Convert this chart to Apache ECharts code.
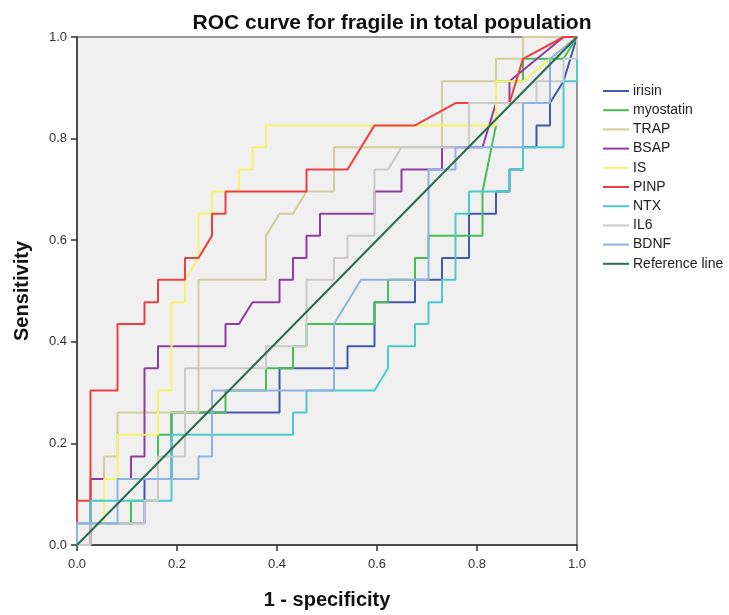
<!DOCTYPE html>
<html><head><meta charset="utf-8">
<script src="https://cdn.jsdelivr.net/npm/echarts@6/dist/echarts.min.js"></script>
<style>html,body{margin:0;padding:0;background:#fff}#c{width:729px;height:615px}</style>
</head><body><div id="c"></div>
<script>
const seriesNames = ['irisin','myostatin','TRAP','BSAP','IS','PINP','NTX','IL6','BDNF','Reference line'];
const xTicks = [0, 0.2, 0.4, 0.6, 0.8, 1.0];
const yTicks = [0, 0.2, 0.4, 0.6, 0.8, 1.0];

const irisin = [[0,0],[0,0.043],[0.135,0.043],[0.135,0.130],[0.189,0.130],[0.189,0.261],[0.405,0.261],[0.405,0.348],[0.541,0.348],[0.541,0.391],[0.595,0.391],[0.595,0.478],[0.676,0.478],[0.676,0.522],[0.730,0.522],[0.730,0.565],[0.784,0.565],[0.784,0.652],[0.838,0.652],[0.838,0.696],[0.865,0.696],[0.865,0.739],[0.892,0.739],[0.892,0.783],[0.919,0.783],[0.919,0.826],[0.946,0.826],[0.946,0.870],[0.973,0.913],[1,1]];
const myostatin = [[0,0],[0,0.043],[0.108,0.043],[0.108,0.087],[0.162,0.087],[0.162,0.217],[0.189,0.217],[0.189,0.261],[0.297,0.261],[0.297,0.304],[0.378,0.304],[0.378,0.348],[0.432,0.348],[0.432,0.391],[0.459,0.391],[0.459,0.435],[0.595,0.435],[0.595,0.478],[0.622,0.478],[0.622,0.522],[0.676,0.522],[0.676,0.565],[0.703,0.565],[0.703,0.609],[0.811,0.609],[0.811,0.696],[0.838,0.826],[0.838,0.913],[0.892,0.913],[0.892,0.957],[0.973,0.957],[1,1]];
const TRAP = [[0,0],[0.027,0],[0.027,0.087],[0.054,0.087],[0.054,0.174],[0.081,0.174],[0.081,0.261],[0.243,0.261],[0.243,0.522],[0.378,0.522],[0.378,0.609],[0.405,0.652],[0.432,0.652],[0.459,0.696],[0.514,0.696],[0.514,0.783],[0.730,0.783],[0.730,0.913],[0.838,0.913],[0.838,0.957],[0.892,0.957],[0.892,1],[1,1]];
const BSAP = [[0,0],[0.027,0],[0.027,0.130],[0.108,0.130],[0.108,0.174],[0.135,0.174],[0.135,0.348],[0.162,0.348],[0.162,0.391],[0.297,0.391],[0.297,0.435],[0.324,0.435],[0.351,0.478],[0.405,0.478],[0.405,0.522],[0.432,0.522],[0.432,0.565],[0.459,0.565],[0.459,0.609],[0.486,0.609],[0.486,0.652],[0.595,0.652],[0.595,0.696],[0.649,0.696],[0.649,0.739],[0.730,0.739],[0.730,0.783],[0.811,0.783],[0.838,0.870],[0.865,0.870],[0.865,0.913],[0.973,1],[1,1]];
const IS = [[0,0],[0,0.043],[0.054,0.043],[0.054,0.130],[0.081,0.130],[0.081,0.217],[0.162,0.217],[0.162,0.304],[0.189,0.304],[0.189,0.478],[0.216,0.478],[0.216,0.522],[0.243,0.565],[0.243,0.652],[0.270,0.652],[0.270,0.696],[0.324,0.696],[0.324,0.739],[0.351,0.739],[0.351,0.783],[0.378,0.783],[0.378,0.826],[0.838,0.826],[0.838,0.913],[0.892,0.913],[0.946,0.957],[1,1]];
const PINP = [[0,0],[0,0.087],[0.027,0.087],[0.027,0.304],[0.081,0.304],[0.081,0.435],[0.135,0.435],[0.135,0.478],[0.162,0.478],[0.162,0.522],[0.216,0.522],[0.216,0.565],[0.243,0.565],[0.270,0.609],[0.270,0.652],[0.297,0.652],[0.297,0.696],[0.459,0.696],[0.459,0.739],[0.541,0.739],[0.595,0.826],[0.676,0.826],[0.757,0.870],[0.865,0.870],[0.892,0.957],[0.973,1],[1,1]];
const NTX = [[0,0],[0,0.043],[0.027,0.043],[0.027,0.087],[0.189,0.087],[0.189,0.217],[0.432,0.217],[0.432,0.261],[0.459,0.261],[0.459,0.304],[0.595,0.304],[0.622,0.348],[0.622,0.391],[0.676,0.391],[0.676,0.435],[0.703,0.435],[0.703,0.478],[0.730,0.478],[0.730,0.522],[0.757,0.522],[0.757,0.652],[0.784,0.652],[0.784,0.696],[0.865,0.696],[0.865,0.739],[0.892,0.739],[0.892,0.783],[0.973,0.783],[0.973,0.913],[1,0.913],[1,1]];
const IL6 = [[0,0],[0.027,0],[0.027,0.043],[0.135,0.043],[0.135,0.087],[0.162,0.087],[0.162,0.174],[0.216,0.174],[0.216,0.348],[0.378,0.348],[0.378,0.391],[0.459,0.391],[0.459,0.522],[0.514,0.522],[0.514,0.565],[0.541,0.565],[0.541,0.609],[0.595,0.609],[0.595,0.739],[0.622,0.739],[0.649,0.783],[0.784,0.783],[0.784,0.870],[0.919,0.870],[0.919,0.913],[0.973,0.913],[0.973,0.957],[1,0.957],[1,1]];
const BDNF = [[0,0],[0,0.043],[0.081,0.043],[0.081,0.130],[0.243,0.130],[0.243,0.174],[0.270,0.174],[0.270,0.304],[0.514,0.304],[0.514,0.435],[0.568,0.522],[0.703,0.522],[0.703,0.739],[0.757,0.739],[0.757,0.783],[0.892,0.783],[0.892,0.870],[0.946,0.870],[0.946,0.957],[1,1]];
const referenceLine = [[0,0],[1,1]];

const colors = ['#4557b0','#45be55','#d2cd9e','#8e3f9e','#f5f36e','#ec4040','#4ccbcb','#cacaca','#8fb4de','#2b6b4b'];
const dataList = [irisin,myostatin,TRAP,BSAP,IS,PINP,NTX,IL6,BDNF,referenceLine];
const FONT = '"Liberation Sans",Arial,sans-serif';

const chart = echarts.init(document.getElementById('c'), null, {renderer:'canvas'});
chart.setOption({
  animation:false,
  backgroundColor:'#ffffff',
  title:{text:'ROC curve for fragile in total population',left:387,top:8,textAlign:'center',
    textStyle:{fontFamily:FONT,fontSize:21,fontWeight:'bold',color:'#111'}},
  legend:{orient:'vertical',left:603,top:84,padding:0,itemWidth:26,itemHeight:2,itemGap:5.2,icon:'rect',
    data:seriesNames,textStyle:{fontFamily:FONT,fontSize:14,lineHeight:14,color:'#222',padding:[0,0,0,-1]}},
  grid:{left:77,right:152,top:37,bottom:68,show:true,backgroundColor:'#f0f0f0',borderColor:'#777',borderWidth:1.5},
  xAxis:{type:'value',min:0,max:1,interval:0.2,name:'1 - specificity',nameLocation:'middle',nameGap:45,
    nameTextStyle:{fontFamily:FONT,fontSize:20,fontWeight:'bold',color:'#111'},
    axisLine:{lineStyle:{color:'#333',width:1.5}},axisTick:{length:6,lineStyle:{color:'#333',width:1.5}},splitLine:{show:false},
    axisLabel:{fontFamily:FONT,fontSize:13,color:'#333',margin:13,formatter:v=>xTicks.indexOf(v)>=0?v.toFixed(1):''}},
  yAxis:{type:'value',min:0,max:1,interval:0.2,name:'Sensitivity',nameLocation:'middle',nameGap:45,
    nameTextStyle:{fontFamily:FONT,fontSize:20,fontWeight:'bold',color:'#111'},
    axisLine:{show:true,lineStyle:{color:'#333',width:1.5}},axisTick:{show:true,length:6,lineStyle:{color:'#333',width:1.5}},splitLine:{show:false},
    axisLabel:{fontFamily:FONT,fontSize:13,color:'#333',margin:10,formatter:v=>yTicks.indexOf(v)>=0?v.toFixed(1):''}},
  series:seriesNames.map((n,i)=>({name:n,type:'line',data:dataList[i],symbol:'none',
    lineStyle:{color:colors[i],width:2},itemStyle:{color:colors[i]},z:2+i}))
});
</script></body></html>
